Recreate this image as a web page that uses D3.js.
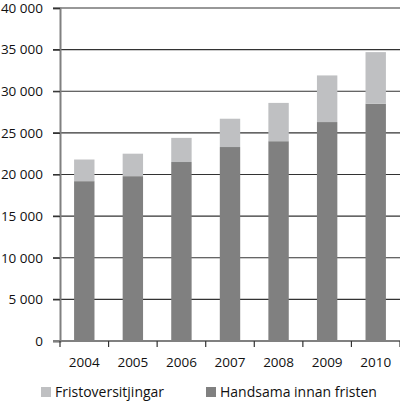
<!DOCTYPE html>
<html>
<head>
<meta charset="utf-8">
<script src="https://cdn.jsdelivr.net/npm/d3@7"></script>
<style>
  body { margin: 0; background: #fff; }
  svg { display: block; font-family: "Open Sans", sans-serif; }
</style>
</head>
<body>
<svg width="400" height="402"></svg>
<script>
const years = ["2004", "2005", "2006", "2007", "2008", "2009", "2010"];
const handsama = [19200, 19800, 21500, 23300, 24000, 26300, 28500];
const fristover = [2600, 2700, 2900, 3400, 4600, 5600, 6200];
const yTicks = [0, 5000, 10000, 15000, 20000, 25000, 30000, 35000, 40000];
const seriesNames = ["Handsama innan fristen", "Fristoversitjingar"];
const seriesColors = ["#808080", "#bfc0c2"];

const svg = d3.select("svg");
const plotLeft = 60, plotRight = 400, plotTop = 8, plotBottom = 341;

const x = d3.scaleBand().domain(years).range([plotLeft, plotRight]).paddingInner(0.58).paddingOuter(0.29);
const y = d3.scaleLinear().domain([0, 40000]).range([plotBottom, plotTop]);

const fmt = v => v === 0 ? "0" : d3.format(",")(v).replace(",", " ");

// rutenett
svg.append("g")
  .selectAll("line")
  .data(yTicks.filter(d => d > 0))
  .join("line")
  .attr("x1", plotLeft - 7).attr("x2", plotRight)
  .attr("y1", d => y(d)).attr("y2", d => y(d))
  .attr("stroke", "#333").attr("stroke-width", 1.2);

// søyler
const rows = years.map((yr, i) => ({ year: yr, handsama: handsama[i], fristover: fristover[i] }));
const stack = d3.stack().keys(["handsama", "fristover"])(rows);

svg.append("g")
  .selectAll("g")
  .data(stack)
  .join("g")
  .attr("fill", (d, i) => seriesColors[i])
  .selectAll("rect")
  .data(d => d)
  .join("rect")
  .attr("x", d => x(d.data.year))
  .attr("width", x.bandwidth())
  .attr("y", d => y(d[1]))
  .attr("height", d => y(d[0]) - y(d[1]));

// y-akse
const yAxis = svg.append("g")
  .attr("transform", `translate(${plotLeft},0)`)
  .call(d3.axisLeft(y).tickValues(yTicks).tickSize(7).tickPadding(10).tickFormat(fmt));
yAxis.select(".domain").attr("stroke", "#808080").attr("stroke-width", 2);
yAxis.selectAll(".tick line").attr("stroke", "#333").attr("stroke-width", 1.2);
yAxis.selectAll("text").attr("font-size", 13.5).attr("fill", "#111").attr("font-family", "Open Sans");

// x-akse
const bounds = d3.range(years.length + 1).map(i => plotLeft + i * x.step());
const xg = svg.append("g");
xg.append("line")
  .attr("x1", plotLeft - 7).attr("x2", plotRight)
  .attr("y1", plotBottom).attr("y2", plotBottom)
  .attr("stroke", "#808080").attr("stroke-width", 2);
xg.selectAll("line.tick")
  .data(bounds)
  .join("line")
  .attr("class", "tick")
  .attr("x1", d => d).attr("x2", d => d)
  .attr("y1", plotBottom).attr("y2", plotBottom + 6)
  .attr("stroke", "#333").attr("stroke-width", 1.2);
xg.selectAll("text")
  .data(years)
  .join("text")
  .attr("x", d => x(d) + x.bandwidth() / 2)
  .attr("y", 367)
  .attr("text-anchor", "middle")
  .attr("font-size", 13.5)
  .attr("fill", "#111")
  .text(d => d);

// forklaring
const legend = [
  { name: seriesNames[1], color: seriesColors[1], x: 41 },
  { name: seriesNames[0], color: seriesColors[0], x: 206 }
];
const lg = svg.append("g").selectAll("g").data(legend).join("g")
  .attr("transform", d => `translate(${d.x},387)`);
lg.append("rect").attr("width", 10).attr("height", 10).attr("fill", d => d.color);
lg.append("text")
  .attr("x", 14).attr("y", 10)
  .attr("font-size", 14)
  .attr("fill", "#111")
  .text(d => d.name);
</script>
</body>
</html>
